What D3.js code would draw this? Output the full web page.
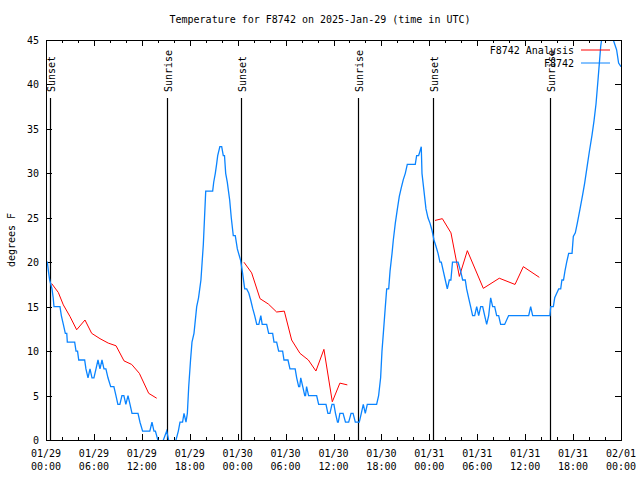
<!DOCTYPE html>
<html>
<head>
<meta charset="utf-8">
<script src="https://cdn.jsdelivr.net/npm/d3@7"></script>
<style>
  body { margin: 0; background: #fff; }
  text { font-family: "DejaVu Sans Mono", monospace; font-size: 10px; fill: #000; }
</style>
</head>
<body>
<svg id="chart" width="640" height="480"></svg>
<script>
// hours since 2025-01-29 00:00 UTC
var obsHours = [0.0,0.17,0.3,0.46,0.75,0.9,1.0,1.75,1.92,2.17,2.42,2.6,2.67,3.59,3.76,3.95,4.1,4.84,5.0,5.26,5.51,5.76,6.0,6.26,6.51,6.76,7.01,7.26,7.5,7.76,8.1,8.5,8.76,9.0,9.25,9.51,9.75,10.0,10.27,10.52,10.77,11.52,11.77,12.1,13.0,13.27,13.52,13.7,14.0,14.3,14.7,15.11,15.36,15.7,16.1,16.28,16.57,16.78,17.1,17.28,17.53,17.7,17.87,18.1,18.28,18.53,18.87,19.1,19.25,19.4,19.55,19.7,19.85,20.0,20.87,21.0,21.2,21.36,21.5,21.77,22.0,22.2,22.35,22.5,22.7,22.85,23.0,23.2,23.45,23.7,23.96,24.37,24.62,24.88,25.13,25.4,25.63,25.88,26.13,26.39,26.65,26.9,27.07,27.63,27.88,28.38,28.55,28.88,29.13,29.63,29.8,30.3,30.55,31.2,31.39,31.64,31.77,31.9,32.15,32.4,32.5,32.63,32.88,33.89,34.14,35.06,35.3,35.55,35.81,36.05,36.25,36.5,36.6,36.8,37.2,37.5,37.9,38.2,38.45,38.73,39.23,39.48,39.73,39.98,40.23,41.4,41.65,41.9,42.07,42.24,42.49,42.66,42.91,43.08,43.33,43.49,43.74,44.0,44.24,44.49,44.74,44.99,45.24,46.24,46.41,46.66,46.83,46.99,47.08,47.33,47.58,47.83,48.08,48.33,48.58,48.83,49.09,49.33,49.5,49.75,50.0,50.25,50.5,50.7,50.9,51.6,51.92,52.17,52.5,52.67,52.92,53.17,53.42,53.68,53.93,54.18,54.43,54.68,54.93,55.18,55.43,55.68,55.93,56.18,56.43,56.68,56.93,57.43,57.93,60.44,60.69,60.94,63.1,63.2,63.53,63.7,63.95,64.2,64.45,64.6,64.8,64.98,65.2,65.45,65.87,66.03,66.28,66.53,66.87,67.2,67.45,67.78,68.03,68.37,68.62,68.87,69.12,69.29,69.46,69.8,70.3,70.8,71.04,71.45,71.7,72.0];
var obsTemps = [20,20,19,18,17,16,15,15,14,13,12,12,11,11,10,10,9,9,8,7,8,7,7,8,9,8,9,8,8,7,6,6,5,4,4,5,5,4,5,4,3,3,2,1,1,2,1,1,0,-1,0,1,0,-1,-1,0,1,2,2,3,2,3,6,9,11,12,15,16,17,18,20,22,25,28,28,29,30,31,32,33,33,32,32,30,29,28,27,25,23,23,21.5,20.2,18.75,17,17,16.5,15.75,14.8,14,13,13,14,13,13,12,12,11,11,10,10,9,9,8,8,7,6,6,7,6,5,5,6,5,5,4,4,3,3,4,4,3,2,2,3,3,2,2,3,3,2,2,3,4,3,4,4,5,7,10,12,15,17,17,19,21,22.5,24.4,26,27.4,28.4,29.3,30,31,31,32,32,32.5,33,30,28,26,25,24.4,23.6,22.5,21.8,21,20,20,19,18,17,18,18,20,20,19,18,18,17,16,15,14,14,15,14,15,15,14,13,14,16,15,15,14,14,13,13,14,14,15,14,14,15,15,16,16.5,17,17,18,18,19,20,21,21,22.9,23.3,24.4,26,27.6,28.9,30.9,32.4,34.3,35.9,37.8,40.5,42.4,44.3,46.5,47.5,46,45,43.9,42.4,42];

// analysis, null = gap between runs
var anaHours = [0.71,1.54,2.17,3.0,3.84,4.88,5.72,6.76,7.8,8.77,9.77,10.73,11.69,12.86,13.86,
  14.5,
  24.79,25.75,26.8,27.84,28.88,29.84,30.76,31.8,32.85,33.8,34.8,35.85,36.8,37.73,
  38.5,
  48.71,49.63,50.71,51.76,52.76,54.76,56.76,58.73,59.77,61.77];
var anaTemps = [17.6,16.6,15.2,13.9,12.4,13.5,12.0,11.4,10.9,10.6,8.9,8.5,7.5,5.25,4.7,
  null,
  20.0,18.8,15.9,15.3,14.4,14.5,11.25,9.75,9.0,7.76,10.2,4.3,6.4,6.2,
  null,
  24.7,24.9,23.3,18.4,21.3,17.06,18.2,17.5,19.5,18.3];

var sunHours = [0.54, 15.19, 24.42, 39.1, 48.5, 63.15];
var sunLabels = ["Sunset", "Sunrise", "Sunset", "Sunrise", "Sunset", "Sunrise"];

var yTicks = [0, 5, 10, 15, 20, 25, 30, 35, 40, 45];
var seriesNames = ["F8742 Analysis", "F8742"];
var seriesColors = ["#ff0000", "#0a84ff"];

var t0 = Date.UTC(2025, 0, 29);
function toDate(h) { return new Date(t0 + h * 3600e3); }

var svg = d3.select("#chart");
var pL = 46, pR = 621, pT = 40, pB = 440;

var x = d3.scaleUtc()
  .domain([toDate(0), toDate(72)])
  .range([pL, pR]);
var y = d3.scaleLinear()
  .domain([0, 45])
  .range([pB, pT]);

svg.append("defs").append("clipPath").attr("id", "clip")
  .append("rect")
  .attr("x", pL).attr("y", pT)
  .attr("width", pR - pL).attr("height", pB - pT);

// title + y label
svg.append("text")
  .attr("x", 320).attr("y", 23)
  .attr("text-anchor", "middle")
  .text("Temperature for F8742 on 2025-Jan-29 (time in UTC)");

svg.append("text")
  .attr("transform", "translate(15,240) rotate(-90)")
  .attr("text-anchor", "middle")
  .text("degrees F");

// ticks
var major = d3.utcHour.every(6).range(toDate(0), toDate(72.01));
var minor = d3.utcHour.every(2).range(toDate(0), toDate(72.01));

var g = svg.append("g").attr("stroke", "#000").attr("stroke-width", 1).attr("shape-rendering", "crispEdges");

minor.forEach(function(d) {
  var px = Math.round(x(d)) + 0.5;
  var len = (d.getUTCHours() % 6 === 0) ? 6 : 3;
  g.append("line").attr("x1", px).attr("x2", px).attr("y1", pB).attr("y2", pB - len);
  g.append("line").attr("x1", px).attr("x2", px).attr("y1", pT).attr("y2", pT + len);
});

yTicks.forEach(function(v) {
  var py = Math.round(y(v)) + 0.5;
  g.append("line").attr("x1", pL).attr("x2", pL + 6).attr("y1", py).attr("y2", py);
  g.append("line").attr("x1", pR).attr("x2", pR - 6).attr("y1", py).attr("y2", py);
});

svg.selectAll(".ylab")
  .data(yTicks)
  .enter()
  .append("text")
  .attr("x", pL - 7)
  .attr("y", d => y(d) + 4)
  .attr("text-anchor", "end")
  .text(d => d);

var fmtDay = d3.utcFormat("%m/%d"), fmtTime = d3.utcFormat("%H:%M");
major.forEach(function(d) {
  var t = svg.append("text").attr("text-anchor", "middle");
  t.append("tspan").attr("x", x(d)).attr("y", 457).text(fmtDay(d));
  t.append("tspan").attr("x", x(d)).attr("y", 470).text(fmtTime(d));
});

// sunrise / sunset markers
sunHours.forEach(function(h, i) {
  var px = Math.round(x(toDate(h))) + 0.5;
  svg.append("line")
    .attr("x1", px).attr("x2", px)
    .attr("y1", 98).attr("y2", pB)
    .attr("stroke", "#000").attr("stroke-width", 1.2);
  svg.append("text")
    .attr("transform", "translate(" + (px + 4) + ",92) rotate(-90)")
    .attr("text-anchor", "start")
    .text(sunLabels[i]);
});

var plot = svg.append("g").attr("clip-path", "url(#clip)");

var anaData = anaHours.map((h, i) => ({ t: toDate(h), v: anaTemps[i] }));
var obsData = obsHours.map((h, i) => ({ t: toDate(h), v: obsTemps[i] }));

var line = d3.line()
  .defined(d => d.v !== null)
  .x(d => x(d.t))
  .y(d => y(d.v));

plot.append("path")
  .datum(anaData)
  .attr("fill", "none")
  .attr("stroke", seriesColors[0])
  .attr("stroke-width", 1)
  .attr("d", line);

plot.append("path")
  .datum(obsData)
  .attr("fill", "none")
  .attr("stroke", seriesColors[1])
  .attr("stroke-width", 1.3)
  .attr("d", line);

// legend
seriesNames.forEach(function(name, i) {
  var ly = 50 + i * 13;
  svg.append("text")
    .attr("x", 574).attr("y", ly + 4)
    .attr("text-anchor", "end")
    .text(name);
  svg.append("line")
    .attr("x1", 581).attr("x2", 610)
    .attr("y1", ly).attr("y2", ly)
    .attr("stroke", seriesColors[i]).attr("stroke-width", 1);
});

// border
svg.append("rect")
  .attr("x", pL + 0.5).attr("y", pT + 0.5)
  .attr("width", pR - pL).attr("height", pB - pT)
  .attr("fill", "none").attr("stroke", "#000").attr("stroke-width", 1)
  .attr("shape-rendering", "crispEdges");
</script>
</body>
</html>
